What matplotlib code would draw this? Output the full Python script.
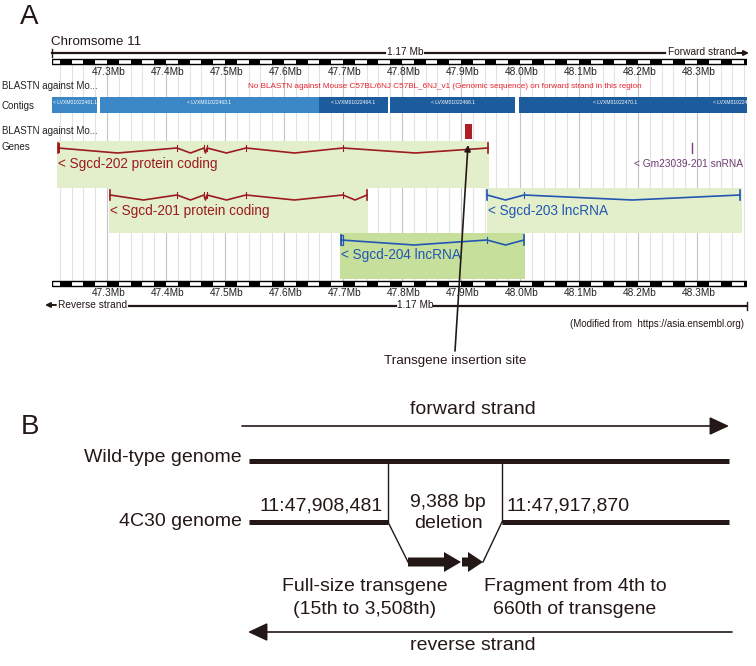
import matplotlib
matplotlib.use('Agg')
import matplotlib.pyplot as plt
from matplotlib import font_manager
from matplotlib.patches import Rectangle

plt.rcParams['font.family'] = ['Liberation Sans', 'DejaVu Sans']

# ---- panel A data (chromosome 11, positions in Mb) ----
view_mb = (47.2068, 48.3847)
tick_mb = [47.3, 47.4, 47.5, 47.6, 47.7, 47.8, 47.9, 48.0, 48.1, 48.2, 48.3]
tick_labels = ['47.3Mb', '47.4Mb', '47.5Mb', '47.6Mb', '47.7Mb', '47.8Mb',
               '47.9Mb', '48.0Mb', '48.1Mb', '48.2Mb', '48.3Mb']

contig_names = ['< LVXM01022461.1', '< LVXM01022463.1', '< LVXM01022464.1',
                '< LVXM01022468.1', '< LVXM01022470.1', '< LVXM010224']
contig_start = [47.2068, 47.2881, 47.6593, 47.7797, 47.9983, 48.3237]
contig_end = [47.2831, 47.6593, 47.7763, 47.9915, 48.3237, 48.3847]
contig_shade = ['light', 'light', 'dark', 'dark', 'dark', 'dark']

blast_hit = (47.9068, 47.9186)

gene_names = ['< Sgcd-202 protein coding', '< Sgcd-201 protein coding',
              '< Sgcd-203 lncRNA', '< Sgcd-204 lncRNA']
gene_exons = [[47.2169, 47.4186, 47.4644, 47.4695, 47.5356, 47.7000, 47.9458],
              [47.3051, 47.4186, 47.4644, 47.4695, 47.5356, 47.7000, 47.7407],
              [47.9441, 48.0068, 48.3729],
              [47.6966, 47.9441, 48.0068]]
gene_box_start = [47.2153, 47.3034, 47.9441, 47.6949]
gene_box_end = [47.9475, 47.7424, 48.3763, 48.0085]
gene_type = ['protein', 'protein', 'lncrna', 'lncrna']
gene_lane = [0, 1, 1, 2]

snrna_name = '< Gm23039-201 snRNA'
snrna_pos = 48.2915

# ---- panel B data ----
del_start = 47908481
del_end = 47917870
full_label = 'Full-size transgene\n(15th to 3,508th)'
frag_label = 'Fragment from 4th to\n660th of transgene'

W, H = 756, 666
fig = plt.figure(figsize=(W / 100, H / 100), dpi=100)

# genome browser axes: x in Mb, y in pixels
x0, x1 = 52, 747
ax_a = fig.add_axes([x0 / W, 0, (x1 - x0) / W, 1])
ax_a.set_xlim(*view_mb)
ax_a.set_ylim(H, 0)
ax_a.axis('off')

# overlay for layout text and panel B, pixel units
ax = fig.add_axes([0, 0, 1, 1])
ax.set_xlim(0, W)
ax.set_ylim(H, 0)
ax.axis('off')

ink = '#231815'

# grid lines every 20 kb
k = 1
while 47.2 + 0.02 * k < view_mb[1]:
    g = 47.2 + 0.02 * k
    major = abs(round(g * 10) - g * 10) < 1e-6
    ax_a.plot([g, g], [64, 281], color='#c4c4c4' if major else '#e2e2e2',
              lw=0.8, zorder=1)
    k += 1

# checkered scale bars
for ytop in [59, 281]:
    k = 0
    while 47.2 + 0.02 * k < view_mb[1]:
        a = max(47.2 + 0.02 * k, view_mb[0])
        b = min(47.2 + 0.02 * (k + 1), view_mb[1])
        if k % 2 == 1:
            ax_a.add_patch(Rectangle((a, ytop), b - a, 5, color='black', lw=0, zorder=3))
        k += 1
    ax_a.add_patch(Rectangle((view_mb[0], ytop), view_mb[1] - view_mb[0], 5,
                             fill=False, ec='black', lw=1, zorder=4))

for t, lab in zip(tick_mb, tick_labels):
    ax_a.text(t + 0.003, 72, lab, ha='center', va='center', fontsize=7.3, color='#222222')
    ax_a.text(t + 0.003, 293, lab, ha='center', va='center', fontsize=7.3, color='#222222')

# contigs
shade_col = {'light': '#3c88c6', 'dark': '#1c5b9c'}
for name, s, e, sh in zip(contig_names, contig_start, contig_end, contig_shade):
    ax_a.add_patch(Rectangle((s, 97), e - s, 16, color=shade_col[sh], lw=0, zorder=3))
    if e - s > 0.07:
        ax_a.text((s + e) / 2, 103, name, ha='center', va='center', fontsize=3.6,
                  color='white', zorder=5)
    else:
        ax_a.text(s + 0.003, 103, name, ha='left', va='center', fontsize=3.6,
                  color='white', zorder=5, clip_on=True)

# BLAST hit
ax_a.add_patch(Rectangle((blast_hit[0], 124), blast_hit[1] - blast_hit[0], 15,
                         color='#b01e23', lw=0, zorder=4))

# genes
lane_line = [148, 195, 240]
lane_box = [141, 188, 233]
lane_h = [47, 45, 46]
gcol = {'protein': '#9b1b1f', 'lncrna': '#2356b3'}
for name, ex, bs, be, gt, ln in zip(gene_names, gene_exons, gene_box_start,
                                     gene_box_end, gene_type, gene_lane):
    box_c = '#c6e09c' if ln == 2 else '#e3efca'
    ax_a.add_patch(Rectangle((bs, lane_box[ln]), be - bs, lane_h[ln], color=box_c,
                             lw=0, zorder=2))
    yl = lane_line[ln]
    c = gcol[gt]
    xs, ys = [], []
    for i in range(len(ex) - 1):
        xs += [ex[i], (ex[i] + ex[i + 1]) / 2]
        ys += [yl, yl + 5]
    xs.append(ex[-1])
    ys.append(yl)
    ax_a.plot(xs, ys, color=c, lw=1.2, zorder=5)
    for e in ex[1:-1]:
        ax_a.plot([e, e], [yl - 3, yl + 3], color=c, lw=0.8, zorder=5)
    for e in [ex[0], ex[-1]]:
        ax_a.plot([e, e], [yl - 5, yl + 5], color=c, lw=1.2, zorder=5)
    if ln == 2:
        ax_a.add_patch(Rectangle((ex[0], yl - 5), 0.004, 10, fill=False, ec=c,
                                 lw=0.9, zorder=5))
    if ln == 0:
        ax_a.add_patch(Rectangle((ex[0], yl - 5), 0.004, 10, color=c, lw=0, zorder=5))
    ax_a.text(bs + 0.001, yl + 16 if ln != 2 else yl + 15, name, ha='left',
              va='center', fontsize=9.8, color=c, zorder=6)

ax_a.plot([snrna_pos, snrna_pos], [143, 153], color='#7d3f80', lw=1.0, zorder=5)
ax_a.text(48.378, 164, snrna_name, ha='right', va='center', fontsize=7.3,
          color='#6e3a6e', zorder=6)

# ---- layout text panel A ----
ax.text(20, 17, 'A', fontsize=20, ha='left', va='center', color=ink)
ax.text(51, 42, 'Chromsome 11', fontsize=9.6, ha='left', va='center', color=ink)
for lab, y in [('BLASTN against Mo...', 86), ('Contigs', 106),
               ('BLASTN against Mo...', 131), ('Genes', 147)]:
    ax.text(2, y, lab, fontsize=7, ha='left', va='center', color='#222222')

names = {f.name for f in font_manager.fontManager.ttflist}
if 'Liberation Sans Narrow' in names:
    ax.text(445, 86, 'No BLASTN against Mouse C57BL/6NJ C57BL_6NJ_v1 (Genomic sequence) '
            'on forward strand in this region', fontsize=7.2, family='Liberation Sans Narrow',
            ha='center', va='center', color='#e8222a')
else:
    ax.text(445, 86, 'No BLASTN against Mouse C57BL/6NJ C57BL_6NJ_v1 (Genomic sequence) '
            'on forward strand in this region', fontsize=5.9,
            ha='center', va='center', color='#e8222a')

# top ruler
ax.plot([52, 385], [53, 53], color=ink, lw=1.6)
ax.plot([52, 52], [49, 57], color=ink, lw=1)
ax.text(405, 52, '1.17 Mb', fontsize=7.3, ha='center', va='center', color=ink)
ax.plot([425, 665], [53, 53], color=ink, lw=1.6)
ax.text(702, 52, 'Forward strand', fontsize=7.3, ha='center', va='center', color=ink)
ax.annotate('', xy=(749, 53), xytext=(737, 53),
            arrowprops=dict(arrowstyle='-|>', lw=1.4, color=ink, mutation_scale=7,
                            shrinkA=0, shrinkB=0))
# bottom ruler
ax.annotate('', xy=(45, 305), xytext=(56, 305),
            arrowprops=dict(arrowstyle='-|>', lw=1.4, color=ink, mutation_scale=7,
                            shrinkA=0, shrinkB=0))
ax.text(58, 305, 'Reverse strand', fontsize=7.3, ha='left', va='center', color=ink)
ax.plot([129, 396], [306, 306], color=ink, lw=1.6)
ax.text(415, 305, '1.17 Mb', fontsize=7.3, ha='center', va='center', color=ink)
ax.plot([434, 747], [306, 306], color=ink, lw=1.6)
ax.plot([747, 747], [302, 310], color=ink, lw=1)
ax.text(744, 324, '(Modified from  https://asia.ensembl.org)', fontsize=7,
        ha='right', va='center', color=ink)

ax.annotate('', xy=(468, 145), xytext=(455, 351),
            arrowprops=dict(arrowstyle='-|>', lw=1.2, color=ink, mutation_scale=9,
                            shrinkA=0, shrinkB=0))
ax.text(455, 361, 'Transgene insertion site', fontsize=9.6, ha='center',
        va='center', color=ink)

# ---- panel B ----
fs = 14
ax.text(21, 427, 'B', fontsize=20, ha='left', va='center', color=ink)
ax.text(473, 409, 'forward strand', fontsize=fs, ha='center', va='center', color=ink)
ax.annotate('', xy=(729, 426), xytext=(242, 426),
            arrowprops=dict(arrowstyle='-|>,head_length=0.6,head_width=0.28', lw=1.2,
                            color=ink, mutation_scale=20, shrinkA=0, shrinkB=0))
ax.text(242, 458, 'Wild-type genome', fontsize=fs, ha='right', va='center', color=ink)
ax.plot([249, 729], [461, 461], color=ink, lw=3.6, solid_capstyle='butt')
ax.text(242, 521, '4C30 genome', fontsize=fs, ha='right', va='center', color=ink)
ax.plot([249, 388], [522, 522], color=ink, lw=3.6, solid_capstyle='butt')
ax.plot([502, 729], [522, 522], color=ink, lw=3.6, solid_capstyle='butt')
ax.plot([388, 388], [461, 522], color=ink, lw=1)
ax.plot([502, 502], [461, 522], color=ink, lw=1)
ax.plot([388, 408], [522, 562], color=ink, lw=1)
ax.plot([502, 483], [522, 562], color=ink, lw=1)

def fmt(p):
    return '11:{:,}'.format(p)

ax.text(321, 506, fmt(del_start), fontsize=fs, ha='center', va='center', color=ink)
ax.text(506, 506, fmt(del_end), fontsize=fs, ha='left', va='center', color=ink)
ax.text(448, 513, '{:,} bp\ndeletion'.format(del_end - del_start - 1), fontsize=fs,
        ha='center', va='center', color=ink, linespacing=1.3)

ax.arrow(408, 562, 53, 0, width=9, head_width=20, head_length=17,
         length_includes_head=True, color=ink, lw=0)
ax.arrow(462, 562, 21, 0, width=9, head_width=20, head_length=15,
         length_includes_head=True, color=ink, lw=0)
ax.text(365, 598, full_label, fontsize=fs, ha='center', va='center', color=ink,
        linespacing=1.5)
ax.text(575, 598, frag_label, fontsize=fs, ha='center', va='center', color=ink,
        linespacing=1.5)

ax.annotate('', xy=(248, 632), xytext=(732, 632),
            arrowprops=dict(arrowstyle='-|>,head_length=0.6,head_width=0.28', lw=1.2,
                            color=ink, mutation_scale=20, shrinkA=0, shrinkB=0))
ax.text(473, 646, 'reverse strand', fontsize=fs, ha='center', va='center', color=ink)

fig.savefig('out.png', dpi=100)
